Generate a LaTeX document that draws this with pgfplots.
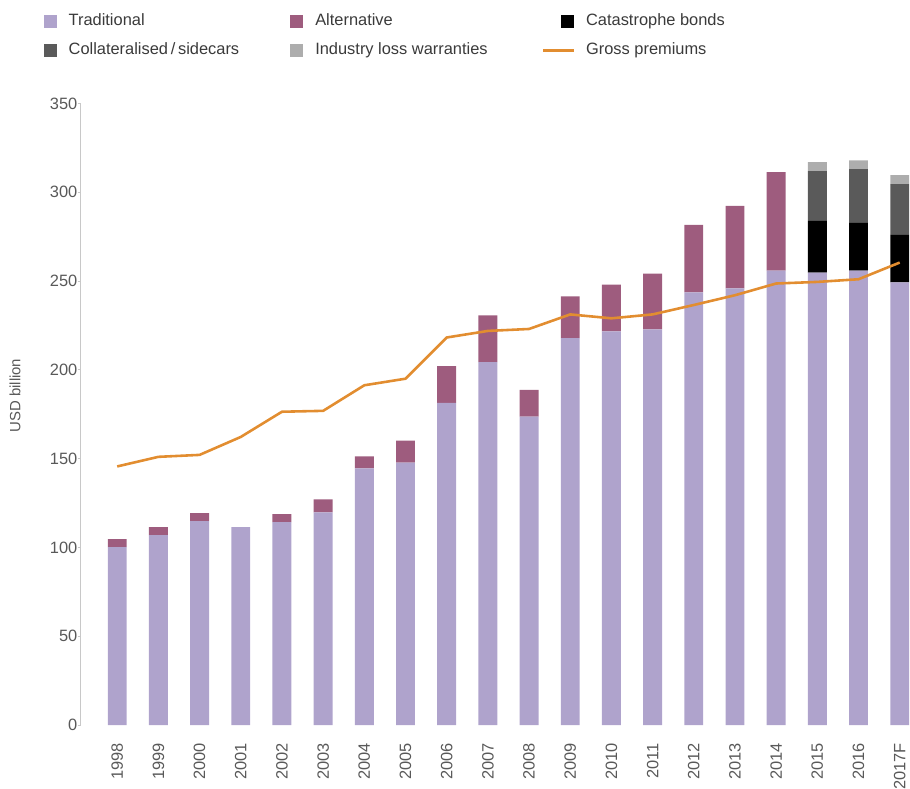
\documentclass[border=0pt]{standalone}
\usepackage{fontspec}
\setmainfont{Liberation Sans}
\usepackage{pgfplots}
\pgfplotsset{compat=1.18}
\definecolor{trad}{HTML}{AFA3CC}
\definecolor{alt}{HTML}{9E5C7E}
\definecolor{cat}{HTML}{000000}
\definecolor{collat}{HTML}{5A5A5A}
\definecolor{ilw}{HTML}{ADADAD}
\definecolor{gross}{HTML}{E28D30}
\definecolor{axisgray}{HTML}{C8C8C8}
\definecolor{ticktext}{HTML}{595959}
\definecolor{legtext}{HTML}{3A3A3A}
\begin{document}
\begin{tikzpicture}
\pgfplotsset{
  common/.style={
    width=834pt, height=625pt, scale only axis,
    xmin=-0.89, xmax=19.25, ymin=0, ymax=350,
    enlargelimits=false,
  },
  sq/.style={legend image code/.code={%
    \path[draw=none,fill=none] (0pt,0pt) (43pt,0pt);
    \fill (18pt,-6.5pt) rectangle (31pt,6.5pt);}},
}
\begin{axis}[common,
  ybar stacked, bar width=19pt,
  axis lines*=left,
  x axis line style={draw=none},
  y axis line style={draw=axisgray, line width=0.8pt},
  xtick={0,...,19},
  xticklabels={1998,1999,2000,2001,2002,2003,2004,2005,2006,2007,2008,2009,2010,2011,2012,2013,2014,2015,2016,2017F},
  xtick style={draw=none},
  xticklabel shift=15pt,
  x tick label style={rotate=90, anchor=east, inner sep=0pt, font=\fontsize{16.5pt}{18pt}\selectfont, text=ticktext},
  ytick={0,50,...,350},
  ytick style={draw=axisgray, line width=0.8pt},
  tick align=outside, major tick length=3pt,
  y tick label style={inner sep=0pt, font=\fontsize{16.5pt}{18pt}\selectfont, text=ticktext},
  /pgf/number format/assume math mode=true,
  ylabel={USD billion},
  ylabel style={at={(axis description cs:-0.0791,0.53)}, anchor=center, rotate=0, font=\fontsize{15pt}{17pt}\selectfont, text=ticktext},
  legend columns=3,
  legend cell align=left,
  legend style={draw=none, fill=none, at={(axis description cs:-0.0659,1.108)}, anchor=west,
    inner sep=0pt, outer sep=0pt,
    nodes={inner sep=0pt, text height=12pt, text depth=4pt, font=\fontsize{16.5pt}{18pt}\selectfont, text=legtext},
    row sep=13pt, column sep=0pt},
]
\addplot[fill=trad, draw=none, sq] coordinates {
(0,100.2) (1,106.9) (2,114.8) (3,111.4) (4,114.2) (5,119.8) (6,144.5) (7,147.8) (8,181.4) (9,204.4)
(10,173.6) (11,217.8) (12,221.7) (13,222.8) (14,243.6) (15,245.8) (16,255.9) (17,254.8) (18,255.9) (19,249.2)};
\addlegendentry{\makebox[205pt][l]{Traditional}}
\addplot[fill=alt, draw=none, sq] coordinates {
(0,4.5) (1,4.5) (2,4.5) (3,0) (4,4.5) (5,7.3) (6,6.7) (7,12.3) (8,20.7) (9,26.3)
(10,15.1) (11,23.5) (12,26.3) (13,31.4) (14,38.0) (15,46.5) (16,55.4) (17,0) (18,0) (19,0)};
\addlegendentry{\makebox[228pt][l]{Alternative}}
\addplot[fill=cat, draw=none, sq] coordinates {
(0,0) (1,0) (2,0) (3,0) (4,0) (5,0) (6,0) (7,0) (8,0) (9,0)
(10,0) (11,0) (12,0) (13,0) (14,0) (15,0) (16,0) (17,29.1) (18,26.8) (19,26.8)};
\addlegendentry{Catastrophe bonds}
\addplot[fill=collat, draw=none, sq] coordinates {
(0,0) (1,0) (2,0) (3,0) (4,0) (5,0) (6,0) (7,0) (8,0) (9,0)
(10,0) (11,0) (12,0) (13,0) (14,0) (15,0) (16,0) (17,28.0) (18,30.3) (19,28.6)};
\addlegendentry{\makebox[205pt][l]{Collateralised\,/\,sidecars}}
\addplot[fill=ilw, draw=none, sq] coordinates {
(0,0) (1,0) (2,0) (3,0) (4,0) (5,0) (6,0) (7,0) (8,0) (9,0)
(10,0) (11,0) (12,0) (13,0) (14,0) (15,0) (16,0) (17,5.0) (18,5.0) (19,5.0)};
\addlegendentry{\makebox[228pt][l]{Industry loss warranties}}
\addlegendimage{draw=gross, line width=2.6pt, legend image code/.code={%
    \path[draw=none,fill=none] (0pt,0pt) (43pt,0pt);
    \draw (0pt,0pt) -- (31pt,0pt);}}
\addlegendentry{Gross premiums}
\end{axis}
\begin{axis}[common, hide axis]
\addplot[draw=gross, line width=2.6pt, line join=round, no markers] coordinates {
(0,145.6) (1,151.0) (2,152.1) (3,162.2) (4,176.4) (5,176.9) (6,191.3) (7,195.0) (8,218.2) (9,221.9)
(10,223.0) (11,231.2) (12,229.0) (13,231.2) (14,236.5) (15,242.0) (16,248.6) (17,249.5) (18,251.0) (19,260.4)};
\end{axis}
\pgfresetboundingbox
\path[use as bounding box] (-81pt,-64pt) rectangle (834pt,729pt);
\end{tikzpicture}
\end{document}
